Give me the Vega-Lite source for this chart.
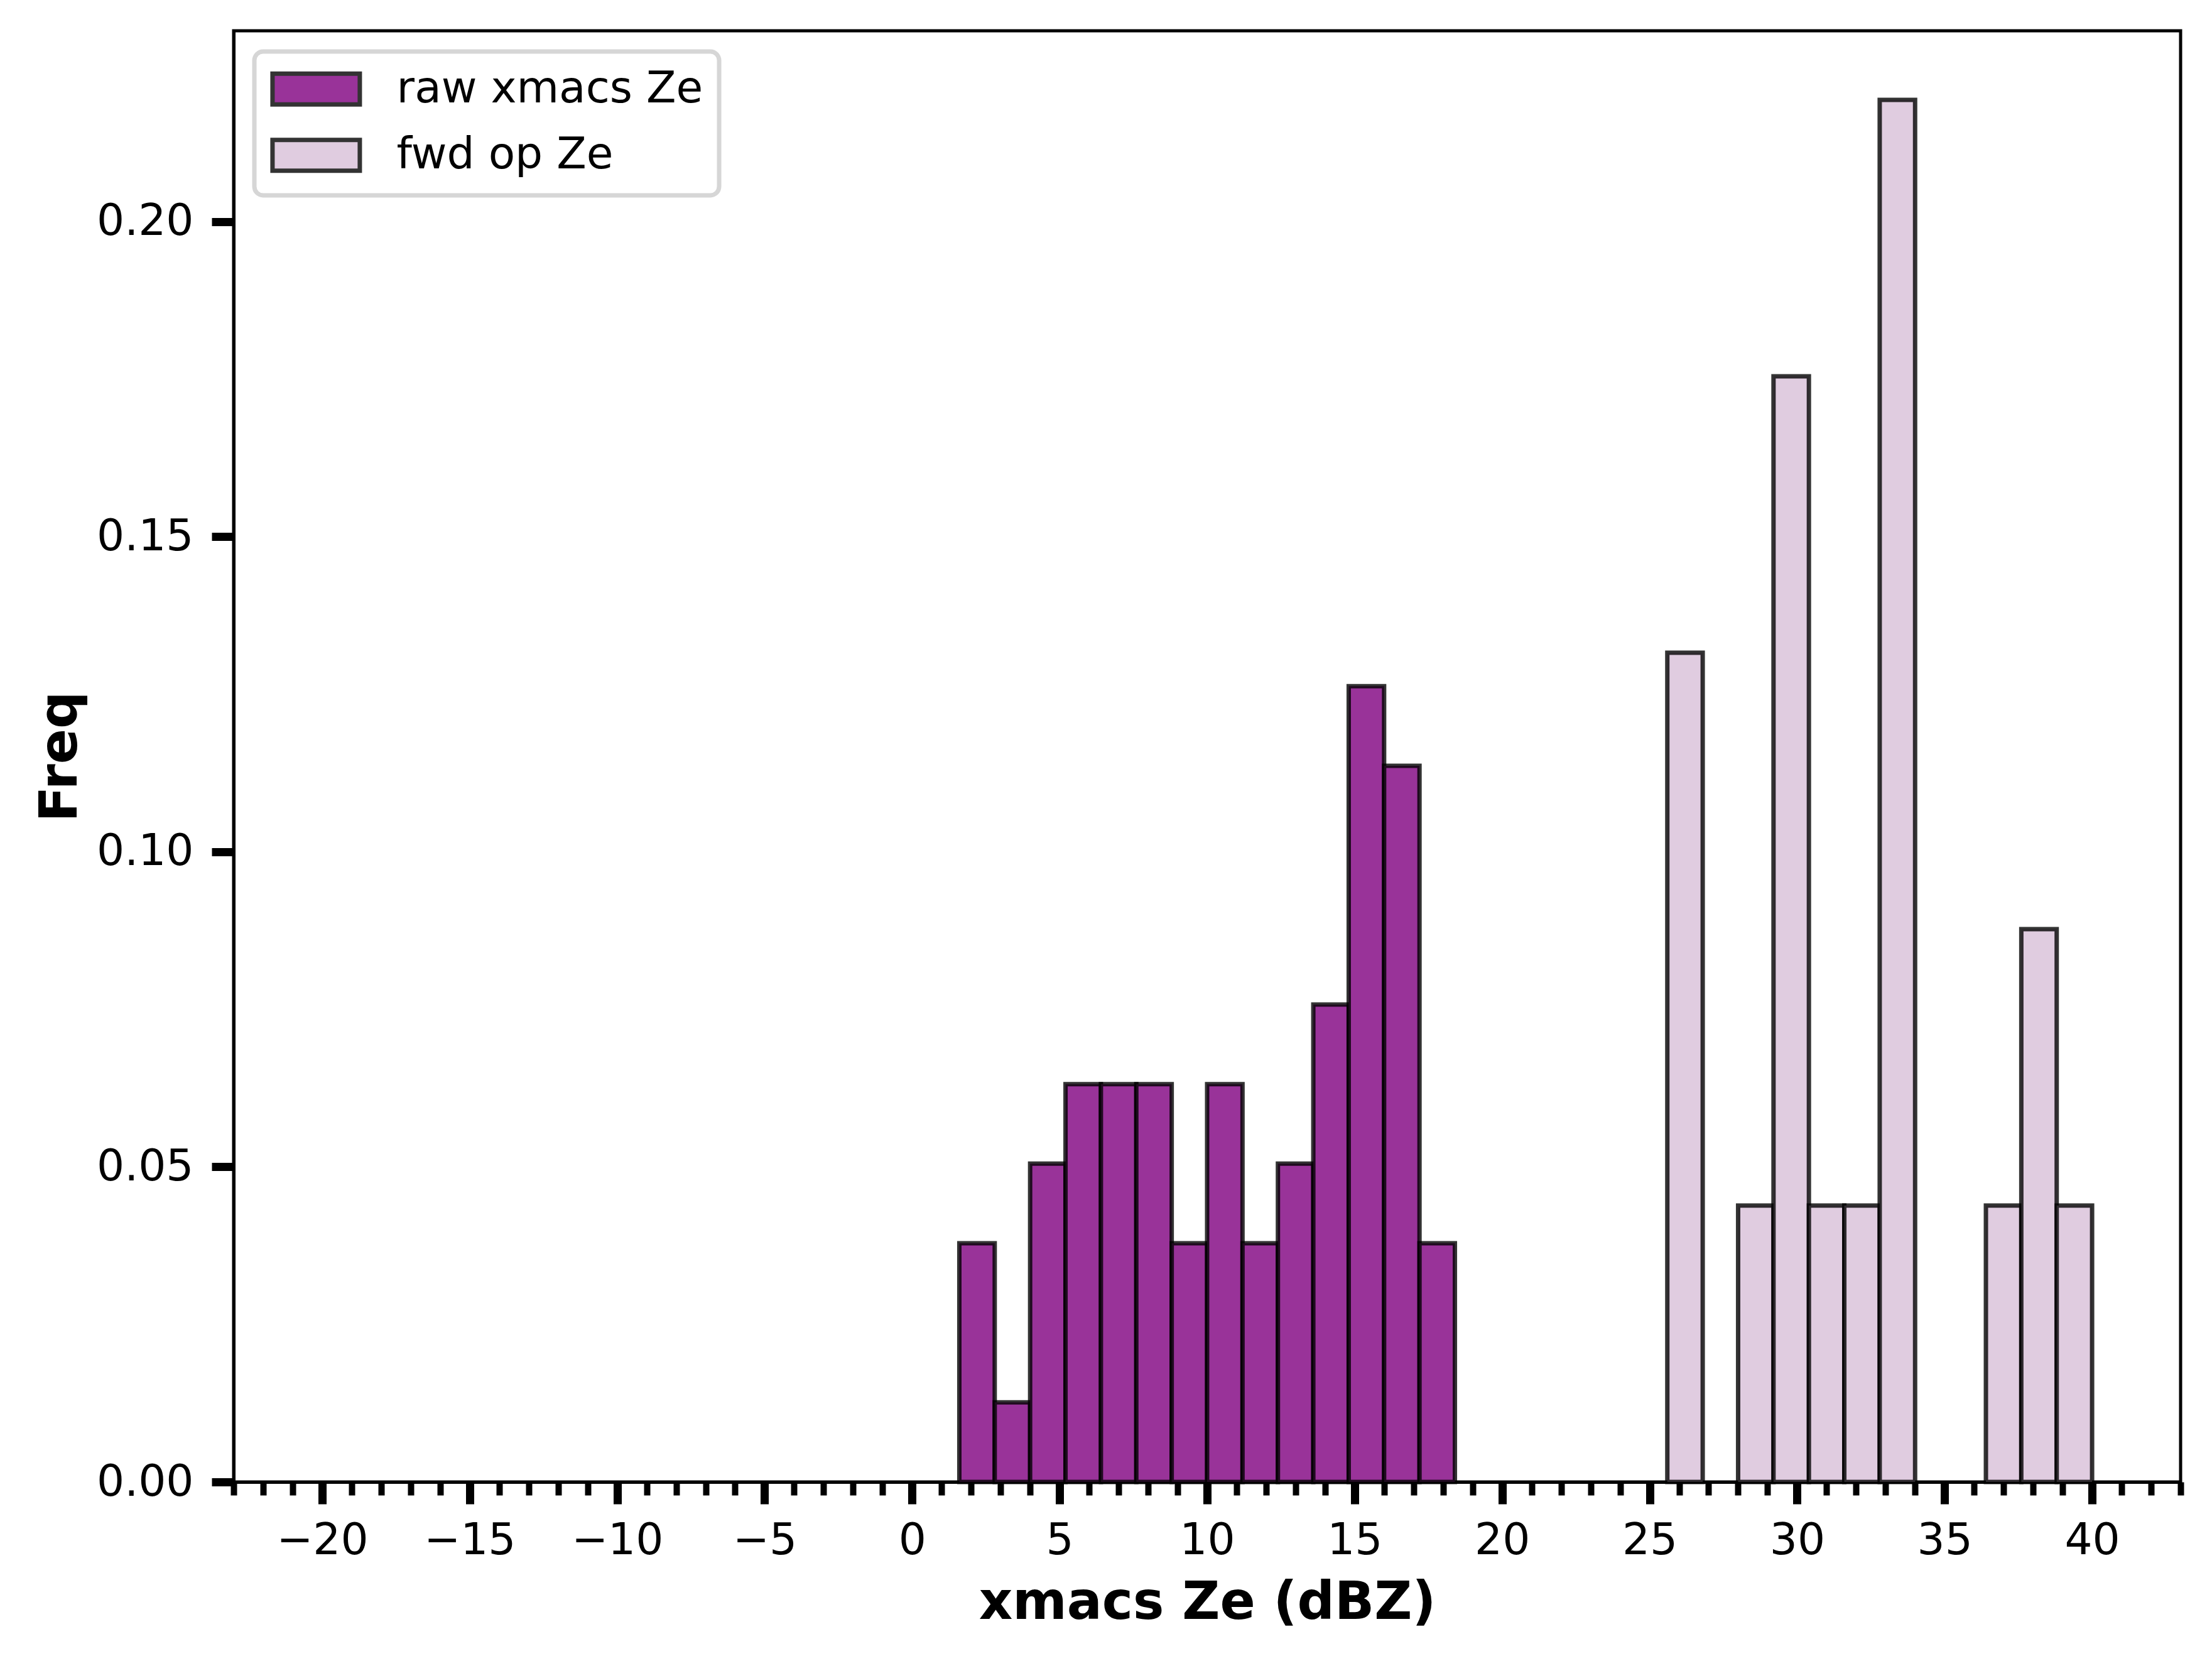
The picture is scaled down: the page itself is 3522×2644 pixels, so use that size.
{
  "$schema": "https://vega.github.io/schema/vega-lite/v6.json",
  "width": 3100,
  "height": 2310,
  "autosize": {"type": "none"},
  "padding": {"left": 372, "top": 49, "right": 50, "bottom": 285},
  "background": "white",
  "config": {
    "view": {"stroke": "black", "strokeWidth": 5},
    "font": "DejaVu Sans"
  },
  "data": {
    "values": [
      {"series": "raw xmacs Ze", "bin_start": 1.6, "bin_end": 2.8, "freq": 0.03788},
      {"series": "raw xmacs Ze", "bin_start": 2.8, "bin_end": 4.0, "freq": 0.01263},
      {"series": "raw xmacs Ze", "bin_start": 4.0, "bin_end": 5.2, "freq": 0.05051},
      {"series": "raw xmacs Ze", "bin_start": 5.2, "bin_end": 6.4, "freq": 0.06313},
      {"series": "raw xmacs Ze", "bin_start": 6.4, "bin_end": 7.6, "freq": 0.06313},
      {"series": "raw xmacs Ze", "bin_start": 7.6, "bin_end": 8.8, "freq": 0.06313},
      {"series": "raw xmacs Ze", "bin_start": 8.8, "bin_end": 10.0, "freq": 0.03788},
      {"series": "raw xmacs Ze", "bin_start": 10.0, "bin_end": 11.2, "freq": 0.06313},
      {"series": "raw xmacs Ze", "bin_start": 11.2, "bin_end": 12.4, "freq": 0.03788},
      {"series": "raw xmacs Ze", "bin_start": 12.4, "bin_end": 13.6, "freq": 0.05051},
      {"series": "raw xmacs Ze", "bin_start": 13.6, "bin_end": 14.8, "freq": 0.07576},
      {"series": "raw xmacs Ze", "bin_start": 14.8, "bin_end": 16.0, "freq": 0.12626},
      {"series": "raw xmacs Ze", "bin_start": 16.0, "bin_end": 17.2, "freq": 0.11364},
      {"series": "raw xmacs Ze", "bin_start": 17.2, "bin_end": 18.4, "freq": 0.03788},
      {"series": "fwd op Ze", "bin_start": 25.6, "bin_end": 26.8, "freq": 0.13158},
      {"series": "fwd op Ze", "bin_start": 28.0, "bin_end": 29.2, "freq": 0.04386},
      {"series": "fwd op Ze", "bin_start": 29.2, "bin_end": 30.4, "freq": 0.17544},
      {"series": "fwd op Ze", "bin_start": 30.4, "bin_end": 31.6, "freq": 0.04386},
      {"series": "fwd op Ze", "bin_start": 31.6, "bin_end": 32.8, "freq": 0.04386},
      {"series": "fwd op Ze", "bin_start": 32.8, "bin_end": 34.0, "freq": 0.21930},
      {"series": "fwd op Ze", "bin_start": 36.4, "bin_end": 37.6, "freq": 0.04386},
      {"series": "fwd op Ze", "bin_start": 37.6, "bin_end": 38.8, "freq": 0.08772},
      {"series": "fwd op Ze", "bin_start": 38.8, "bin_end": 40.0, "freq": 0.04386}
    ]
  },
  "mark": {"type": "rect", "stroke": "black", "strokeOpacity": 0.8, "strokeWidth": 7},
  "encoding": {
    "x": {
      "field": "bin_start",
      "type": "quantitative",
      "scale": {"domain": [-23, 43], "nice": false, "zero": false},
      "axis": {
        "title": "xmacs Ze (dBZ)",
        "titleFont": "DejaVu Sans",
        "titleFontSize": 83,
        "titleFontWeight": "bold",
        "titleColor": "black",
        "titlePadding": 24,
        "values": [-23,-22,-21,-20,-19,-18,-17,-16,-15,-14,-13,-12,-11,-10,-9,-8,-7,-6,-5,-4,-3,-2,-1,0,1,2,3,4,5,6,7,8,9,10,11,12,13,14,15,16,17,18,19,20,21,22,23,24,25,26,27,28,29,30,31,32,33,34,35,36,37,38,39,40,41,42,43],
        "format": "d",
        "labelExpr": "datum.value % 5 === 0 ? datum.label : ''",
        "labelFont": "DejaVu Sans",
        "labelFontSize": 69.4,
        "labelColor": "black",
        "labelBaseline": "alphabetic",
        "labelPadding": 79.5,
        "labelOverlap": false,
        "labelFlush": false,
        "labelBound": false,
        "tickSize": {"condition": {"test": "datum.value % 5 === 0", "value": 35}, "value": 21},
        "tickWidth": {"condition": {"test": "datum.value % 5 === 0", "value": 13}, "value": 10},
        "tickColor": "black",
        "domainColor": "black",
        "domainWidth": 5,
        "grid": false
      }
    },
    "x2": {"field": "bin_end"},
    "y": {
      "field": "freq",
      "type": "quantitative",
      "scale": {"domain": [0, 0.23026], "nice": false},
      "axis": {
        "title": "Freq",
        "titleFont": "DejaVu Sans",
        "titleFontSize": 83,
        "titleFontWeight": "bold",
        "titleColor": "black",
        "titlePadding": 34,
        "values": [0, 0.05, 0.1, 0.15, 0.2],
        "format": ".2f",
        "labelFont": "DejaVu Sans",
        "labelFontSize": 69.4,
        "labelColor": "black",
        "labelPadding": 29,
        "tickSize": 35,
        "tickWidth": 13,
        "tickColor": "black",
        "domainColor": "black",
        "domainWidth": 5,
        "grid": false
      }
    },
    "y2": {"datum": 0},
    "color": {
      "field": "series",
      "type": "nominal",
      "scale": {"domain": ["raw xmacs Ze", "fwd op Ze"], "range": ["#993399", "#e0cce0"]},
      "legend": {
        "title": null,
        "orient": "top-left",
        "offset": 33,
        "padding": 25,
        "strokeColor": "#d6d6d6",
        "fillColor": "white",
        "cornerRadius": 14,
        "symbolType": "M-2.8367,-1H2.8367V1H-2.8367Z",
        "symbolSize": 2401,
        "symbolOffset": 38.7,
        "symbolStrokeColor": "#333333",
        "symbolStrokeWidth": 7,
        "symbolOpacity": 1,
        "labelFont": "DejaVu Sans",
        "labelFontSize": 69.4,
        "labelColor": "black",
        "labelLimit": 1000,
        "labelOffset": 93.5,
        "rowPadding": 27.5,
        "encode": {"legend": {"update": {"strokeWidth": {"value": 7}}}}
      }
    }
  }
}
